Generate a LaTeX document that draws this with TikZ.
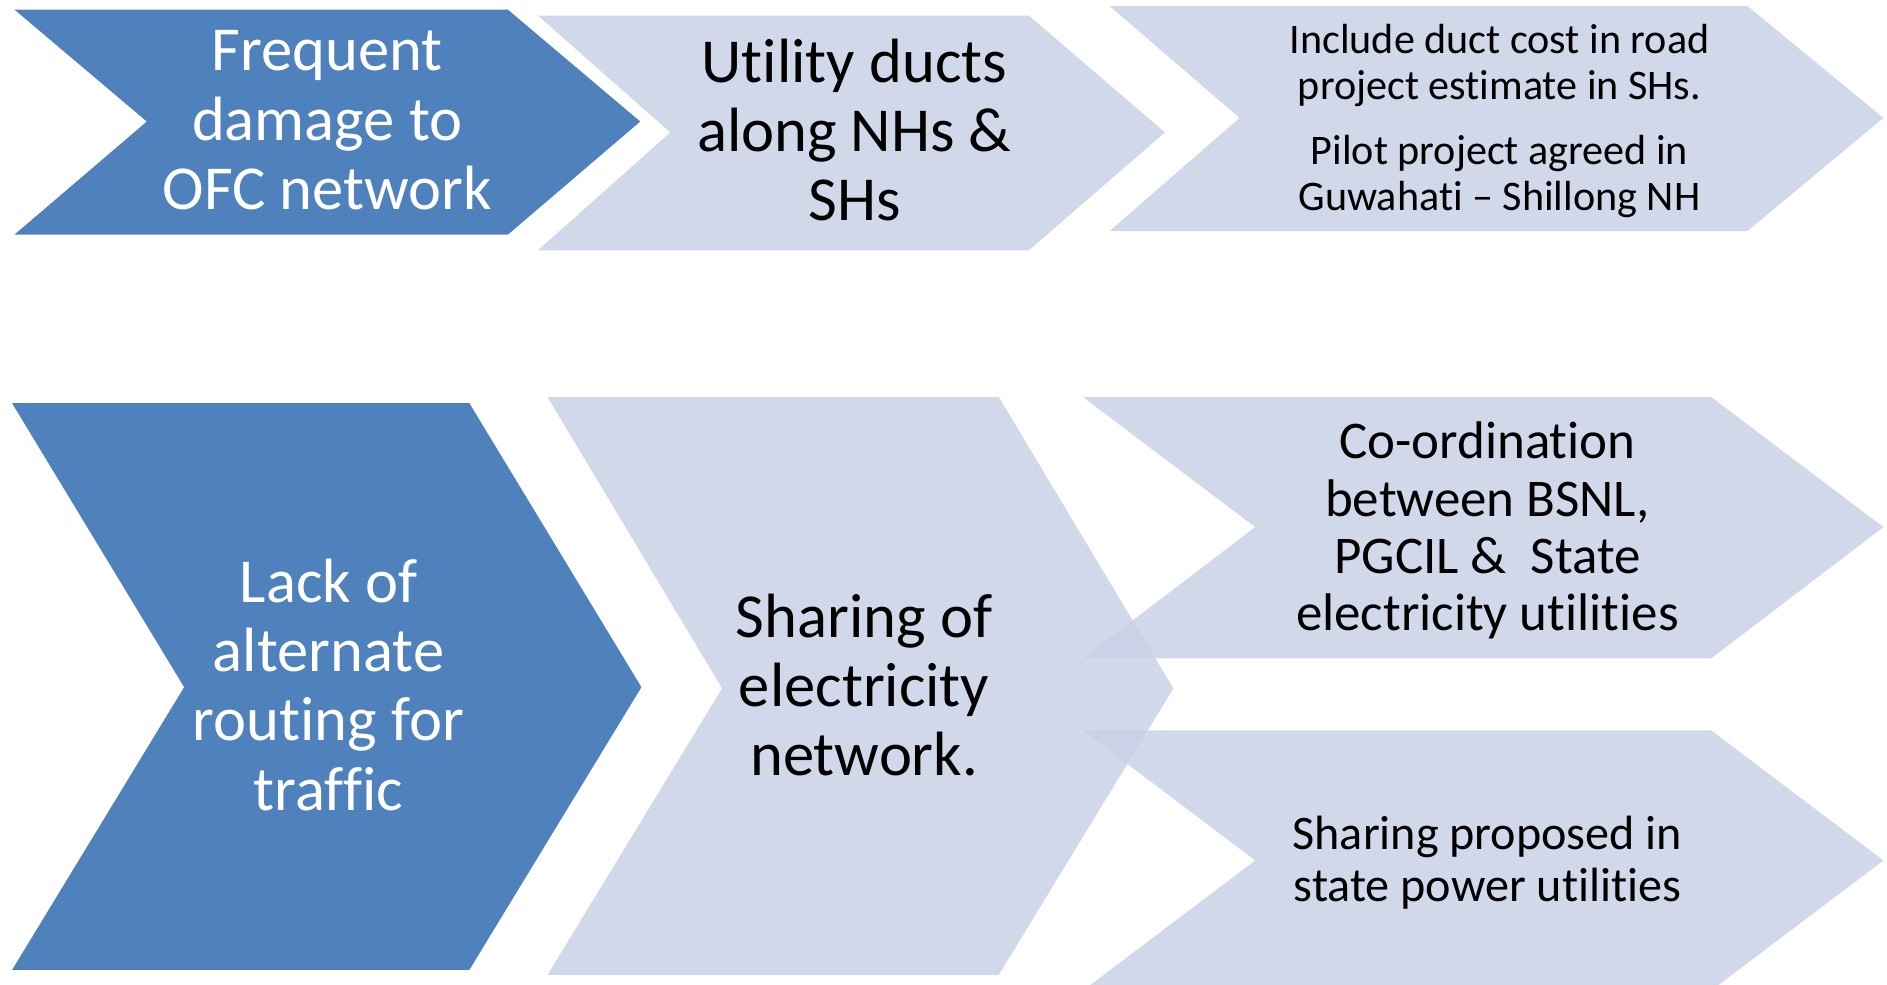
\documentclass[tikz,border=0pt]{standalone}
\usepackage{fontspec}
\setmainfont[Ligatures=NoCommon]{Carlito}
\usepackage{tikz}
\usetikzlibrary{positioning}
\definecolor{ofcblue}{RGB}{79,129,189}
\definecolor{ofclight}{RGB}{200,209,230}
\tikzstyle{darkchev} = [fill=ofcblue]
\tikzstyle{lightchev} = [fill=ofclight, fill opacity=0.85]
\tikzstyle{whitetext} = [align=center, text=white, font=\fontsize{52}{57.5}\selectfont]
\tikzstyle{blacktext} = [align=center, text=black, font=\fontsize{52}{57.5}\selectfont]

\begin{document}
\begin{tikzpicture}[x=1pt, y=-1pt]
\useasboundingbox (0,0) rectangle (1568,818);
\clip (0,0) rectangle (1568,818);

% Top row
\fill[darkchev] (12,8) -- (422,8) -- (532,101) -- (422,195) -- (12,195) -- (122,101) -- cycle;
\node (damage) [whitetext] at (272,100) {Frequent\\damage to\\OFC network};

\fill[lightchev] (447,13) -- (855,13) -- (968,110) -- (855,208) -- (447,208) -- (557,110) -- cycle;
\node (ducts) [blacktext] at (710,108) {Utility ducts\\along NHs \&\\SHs};

\fill[lightchev] (922,5) -- (1452,5) -- (1565,98) -- (1452,192) -- (922,192) -- (1030,98) -- cycle;
\node (estimate) [blacktext, font=\fontsize{35}{38}\selectfont] at (1246,100.5) {Include duct cost in road\\project estimate in SHs.\\[16pt]Pilot project agreed in\\Guwahati -- Shillong NH};

% Bottom row
\fill[darkchev] (10,335) -- (390,335) -- (533,571) -- (390,806) -- (10,806) -- (153,571) -- cycle;
\node (routing) [whitetext] at (273,569) {Lack of\\alternate\\routing for\\traffic};

\fill[lightchev] (455,330) -- (830,330) -- (975,572) -- (830,810) -- (455,810) -- (600,572) -- cycle;
\node (sharing) [blacktext] at (718,569) {Sharing of\\electricity\\network.};

\fill[lightchev] (900,330) -- (1422,330) -- (1565,438) -- (1422,547) -- (900,547) -- (1043,438) -- cycle;
\node (coord) [blacktext, font=\fontsize{44}{47.7}\selectfont] at (1236,441) {Co-ordination\\between BSNL,\\PGCIL \&\ \ State\\electricity utilities};

\fill[lightchev] (900,607) -- (1422,607) -- (1565,715) -- (1422,823) -- (900,823) -- (1043,715) -- cycle;
\node (proposed) [blacktext, font=\fontsize{40}{43}\selectfont] at (1236,717) {Sharing proposed in\\state power utilities};

\end{tikzpicture}
\end{document}
